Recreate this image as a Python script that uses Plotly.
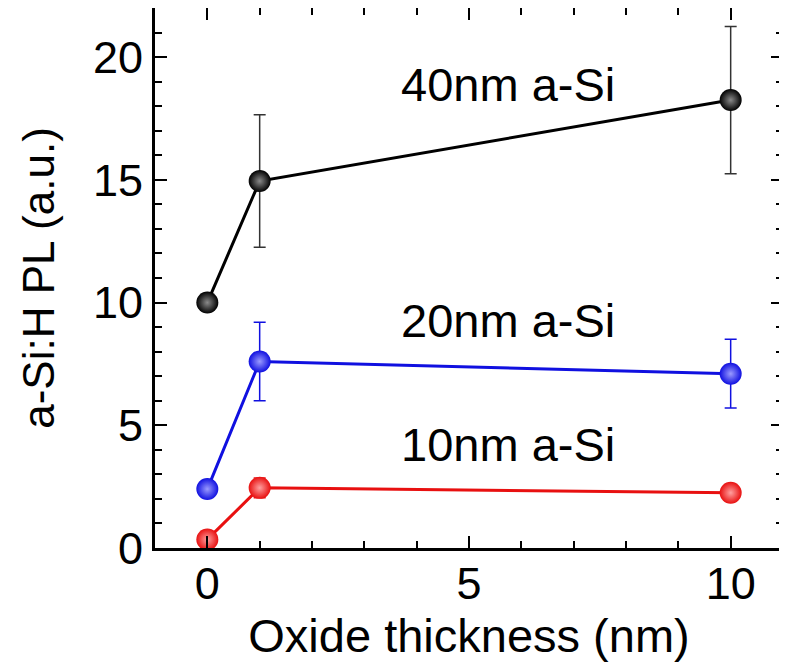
import plotly.graph_objects as go

oxide_nm = [0, 1, 10]

pl_40nm = [10.0, 14.95, 18.25]
err_40nm = [0.0, 2.7, 3.0]

pl_20nm = [2.4, 7.6, 7.1]
err_20nm = [0.0, 1.6, 1.4]

pl_10nm = [0.35, 2.45, 2.25]
err_10nm = [0.0, 0.4, 0.0]

labels = ["40nm a-Si", "20nm a-Si", "10nm a-Si"]
label_x = [5.75, 5.75, 5.75]
label_y = [18.9, 9.25, 4.2]

series = [
    (pl_40nm, err_40nm, "#000000", "#8a8a8a", "#333333"),
    (pl_20nm, err_20nm, "#1010e0", "#9a9aff", "#1010e0"),
    (pl_10nm, err_10nm, "#e81010", "#ffa0a0", "#e81010"),
]

FONT = "Liberation Sans, Arial"

fig = go.Figure()
for (vals, errs, col, hi, ecol), name in zip(series, labels):
    fig.add_trace(go.Scatter(
        x=oxide_nm, y=vals, mode="lines+markers", name=name,
        line=dict(color=col, width=3),
        marker=dict(size=22, color=col, line=dict(width=0),
                    gradient=dict(type="radial", color=hi)),
        error_y=dict(type="data", array=errs, visible=True, color=ecol,
                     thickness=1.5, width=6),
        showlegend=False,
    ))

for t, x, y in zip(labels, label_x, label_y):
    fig.add_annotation(x=x, y=y, text=t, showarrow=False,
                       font=dict(size=47, color="black", family=FONT),
                       xanchor="center", yanchor="middle")

axis_common = dict(
    showline=True, linecolor="black", linewidth=3, mirror="ticks",
    ticks="inside", ticklen=12, tickwidth=2, tickcolor="black",
    showgrid=False, zeroline=False,
    tickfont=dict(size=45, color="black", family=FONT),
)
minor = dict(dtick=1, ticks="inside", ticklen=7, tickwidth=2, tickcolor="black", showgrid=False)

fig.update_xaxes(range=[-1, 11], tickmode="linear", tick0=0, dtick=5,
                 minor=minor, ticklabelstandoff=-6,
                 title=dict(text="Oxide thickness (nm)", standoff=12,
                            font=dict(size=47, color="black", family=FONT)),
                 **axis_common)
fig.update_yaxes(range=[0, 22], tickmode="linear", tick0=0, dtick=5,
                 minor=minor,
                 title=dict(text="a-Si:H PL (a.u.)", standoff=25,
                            font=dict(size=44, color="black", family=FONT)),
                 **axis_common)

fig.update_layout(
    width=779, height=655,
    margin=dict(l=147, r=4, t=0, b=115, autoexpand=False),
    paper_bgcolor="white", plot_bgcolor="white",
)

fig.write_html("out.html")
